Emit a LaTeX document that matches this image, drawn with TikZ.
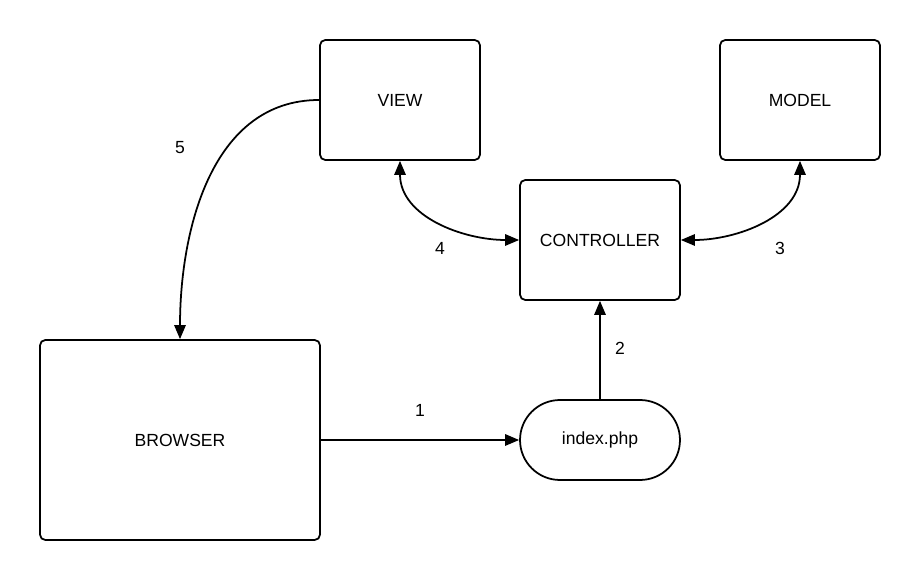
\documentclass[tikz,border=0pt]{standalone}
\usepackage{fontspec}
\setmainfont{Liberation Sans}
\usetikzlibrary{arrows.meta}

\begin{document}
\begin{tikzpicture}[x=0.02cm, y=-0.02cm, line width=1pt,
    box/.style={draw, rounded corners=3pt, minimum width=3.2cm, minimum height=2.4cm, font=\fontsize{10}{12}\selectfont},
    pill/.style={draw, rounded corners=0.8cm, minimum width=3.2cm, minimum height=1.6cm, font=\fontsize{10}{12}\selectfont},
    post/.style={-{Triangle[length=8pt, width=6.5pt]}},
    both/.style={{Triangle[length=8pt, width=6.5pt]}-{Triangle[length=8pt, width=6.5pt]}},
    lbl/.style={font=\fontsize{10}{12}\selectfont}]

   \useasboundingbox (0,0) rectangle (920,580);

   \foreach \x/\y/\n/\t in {400/100/view/VIEW, 800/100/model/MODEL, 600/240/ctrl/CONTROLLER}
     \node [box] (v\n) at (\x,\y) {\t};
   \node [box, minimum width=5.6cm, minimum height=4cm] (vbrowser) at (180,440) {BROWSER};
   \node [pill] (vindex) at (600,440) {index.php};

   \foreach \n/\x/\y/\t in {1/420/410/1, 2/620/348/2, 3/780/248/3, 4/440/248/4, 5/180/148/5}
     \node [lbl] (l\n) at (\x,\y) {\t};

   \draw [post] (vbrowser) -- (vindex);
   \draw [post] (vindex) -- (vctrl);
   \draw [both] (vctrl.east) to[out=0, in=-90] (vmodel.south);
   \draw [both] (vview.south) to[out=-90, in=180] (vctrl.west);
   \draw [post] (vview.west) to[out=180, in=90] (vbrowser.north);

\end{tikzpicture}
\end{document}
